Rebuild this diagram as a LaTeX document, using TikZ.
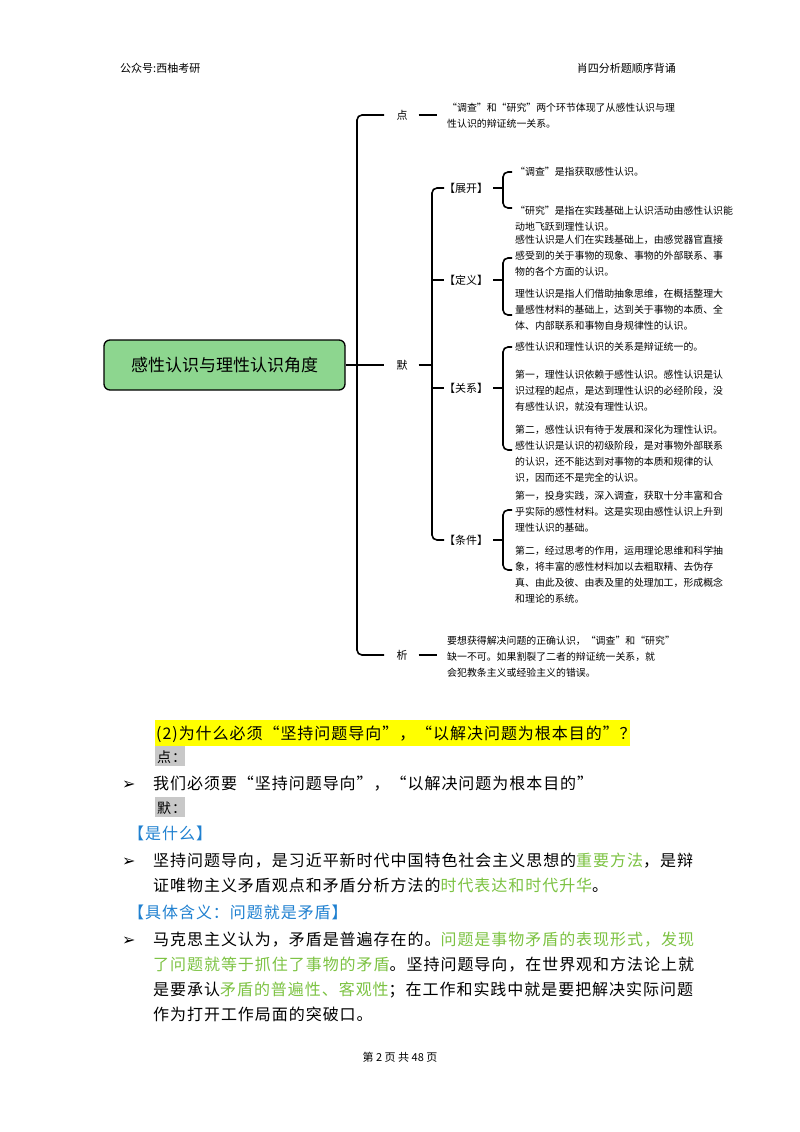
\documentclass[tikz,border=0pt]{standalone}
\usepackage{fontspec}
\setmainfont{Noto Sans CJK SC}
\newfontfamily\body[LetterSpace=6]{Noto Sans CJK SC}
\newfontfamily\djv{DejaVu Sans}
\definecolor{rootgreen}{HTML}{8DD68F}
\definecolor{gtext}{HTML}{7CC242}
\definecolor{btext}{HTML}{1F80D0}
\definecolor{hl}{HTML}{FFFF00}
\definecolor{graybox}{HTML}{C8C8C8}
\tikzset{
 mm/.style={font=\fontsize{9.9}{16}\selectfont, align=left, anchor=west, inner sep=0pt},
 lab/.style={font=\fontsize{11}{13}\selectfont, inner sep=1pt},
 br/.style={line width=1.6pt, rounded corners=5pt},
 con/.style={line width=1.6pt},
 ln/.style={font=\body\fontsize{16}{20}\selectfont, anchor=base west, inner sep=0pt},
 hd/.style={font=\fontsize{11}{13}\selectfont, inner sep=0pt, anchor=base},
 bul/.style={font=\djv\fontsize{16}{18}\selectfont, anchor=base west, inner sep=0pt},
}
\begin{document}
\begin{tikzpicture}[x=1pt,y=-1pt]
\useasboundingbox (0,0) rectangle (800,1132);
\node[hd, anchor=base west] (h1) at (120,72) {公众号:西柚考研};
\node[hd, anchor=base east] (h2) at (676,72) {肖四分析题顺序背诵};
% root
\node[draw=black, line width=1.3pt, fill=rootgreen, rounded corners=6pt, minimum width=241pt, minimum height=50pt, font=\fontsize{17}{20}\selectfont] (root) at (224.5,365) {感性认识与理性认识角度};
% main labels
\node[lab] (d) at (402,115) {点};
\node[lab] (m) at (402,365) {默};
\node[lab] (x) at (402,655) {析};
\draw[con] (root.east) -- (357,365);
\draw[br] (384,115) -- (357,115) -- (357,655) -- (384,655);
\draw[con] (357,365) -- (384,365);
\draw[con] (d.east)++(10,0) -- ++(18,0);
\draw[con] (x.east)++(10,0) -- ++(18,0);
\node[mm] (dt) at (447,116) {“调查”和“研究”两个环节体现了从感性认识与理\\性认识的辩证统一关系。};
\node[mm] (xt) at (447,657) {要想获得解决问题的正确认识，“调查”和“研究”\\缺一不可。如果割裂了二者的辩证统一关系，就\\会犯教条主义或经验主义的错误。};
% 默 branch
\draw[con] (m.east)++(10,0) -- (432,365);
\draw[br] (444,188) -- (432,188) -- (432,540) -- (444,540);
\draw[con] (432,280) -- (444,280);
\draw[con] (432,388) -- (444,388);
\node[lab] (zk) at (466,188) {【展开】};
\node[lab] (dy) at (466,280) {【定义】};
\node[lab] (gx) at (466,388) {【关系】};
\node[lab] (tj) at (466,540) {【条件】};
% 展开
\draw[con] (zk.east)++(4,0) -- (503,188);
\draw[br] (512,172) -- (503,172) -- (503,208) -- (512,208);
\node[mm] at (515,172) {“调查”是指获取感性认识。};
\node[mm] at (515,219) {“研究”是指在实践基础上认识活动由感性认识能\\动地飞跃到理性认识。};
% 定义
\draw[con] (dy.east)++(4,0) -- (503,280);
\draw[br] (512,258) -- (503,258) -- (503,315) -- (512,315);
\node[mm] at (515,256) {感性认识是人们在实践基础上，由感觉器官直接\\感受到的关于事物的现象、事物的外部联系、事\\物的各个方面的认识。};
\node[mm] at (515,310) {理性认识是指人们借助抽象思维，在概括整理大\\量感性材料的基础上，达到关于事物的本质、全\\体、内部联系和事物自身规律性的认识。};
% 关系
\draw[con] (gx.east)++(4,0) -- (503,388);
\draw[br] (512,347) -- (503,347) -- (503,450) -- (512,450);
\node[mm] at (515,347) {感性认识和理性认识的关系是辩证统一的。};
\node[mm] at (515,391) {第一，理性认识依赖于感性认识。感性认识是认\\识过程的起点，是达到理性认识的必经阶段，没\\有感性认识，就没有理性认识。};
\node[mm] at (515,454) {第二，感性认识有待于发展和深化为理性认识。\\感性认识是认识的初级阶段，是对事物外部联系\\的认识，还不能达到对事物的本质和规律的认\\识，因而还不是完全的认识。};
% 条件
\draw[con] (tj.east)++(4,0) -- (503,540);
\draw[br] (512,510) -- (503,510) -- (503,570) -- (512,570);
\node[mm] at (515,512) {第一，投身实践，深入调查，获取十分丰富和合\\乎实际的感性材料。这是实现由感性认识上升到\\理性认识的基础。};
\node[mm] at (515,575) {第二，经过思考的作用，运用理论思维和科学抽\\象，将丰富的感性材料加以去粗取精、去伪存\\真、由此及彼、由表及里的处理加工，形成概念\\和理论的系统。};
% lower text
\fill[hl] (155,720) rectangle (630,746);
\node[ln] (q) at (156,739) {(2)为什么必须“坚持问题导向”，“以解决问题为根本目的”？};
\fill[graybox] (155,746) rectangle (185,766);
\node[ln, font=\body\fontsize{14}{16}\selectfont] (p1) at (157,762) {点：};
\node[bul] (b1) at (122,789) {➢};
\node[ln] (t1) at (153,789) {我们必须要“坚持问题导向”，“以解决问题为根本目的”};
\fill[graybox] (155,797) rectangle (185,817);
\node[ln, font=\body\fontsize{14}{16}\selectfont] (p2) at (157,813) {默：};
\node[ln, text=btext] (s1) at (128,839) {【是什么】};
\node[bul] (b2) at (122,866) {➢};
\node[ln] (t2) at (153,866) {坚持问题导向，是习近平新时代中国特色社会主义思想的\textcolor{gtext}{重要方法}，是辩};
\node[ln] (t3) at (153,891) {证唯物主义矛盾观点和矛盾分析方法的\textcolor{gtext}{时代表达和时代升华}。};
\node[ln, text=btext] (s2) at (128,918) {【具体含义：问题就是矛盾】};
\node[bul] (b3) at (122,945) {➢};
\node[ln] (t4) at (153,945) {马克思主义认为，矛盾是普遍存在的。\textcolor{gtext}{问题是事物矛盾的表现形式，发现}};
\node[ln] (t5) at (153,970) {\textcolor{gtext}{了问题就等于抓住了事物的矛盾}。坚持问题导向，在世界观和方法论上就};
\node[ln] (t6) at (153,995) {是要承认\textcolor{gtext}{矛盾的普遍性、客观性}；在工作和实践中就是要把解决实际问题};
\node[ln] (t7) at (153,1020) {作为打开工作局面的突破口。};
\node[hd] (ft) at (400,1061) {第 2 页 共 48 页};
\end{tikzpicture}
\end{document}
